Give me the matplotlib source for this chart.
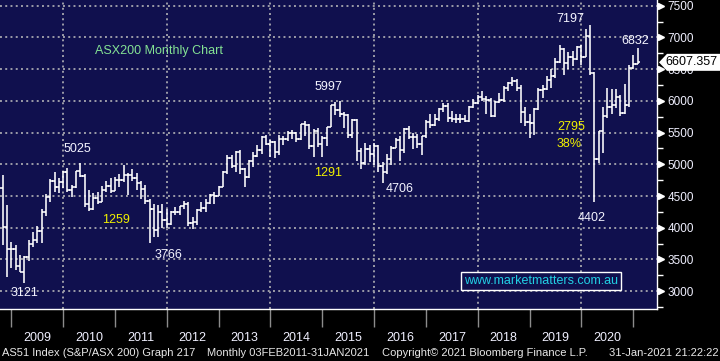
import matplotlib
matplotlib.use('Agg')
import matplotlib.pyplot as plt
from matplotlib.collections import LineCollection
from matplotlib.patches import Polygon
from matplotlib.ticker import FixedLocator
import matplotlib.transforms as mtransforms

plt.rcParams['font.family'] = ['Liberation Sans', 'DejaVu Sans']

# ---------------- data (monthly OHLC, Oct 2008 .. Jan 2021) ----------------
start_year, start_month = 2008, 10
opens = [4631, 4015, 3672, 3659, 3400, 3296, 3532, 3744, 3813, 3948, 4254, 4478, 4739, 4644, 4715,
         4871, 4596, 4637, 4893, 4808, 4367, 4302, 4470, 4413, 4598, 4660, 4585,
         4745, 4754, 4838, 4837, 4780, 4709, 4608, 4425, 4297, 3970, 4243, 4129,
         4057, 4244, 4247, 4335, 4376, 4076, 4095, 4280, 4317, 4387, 4517, 4506,
         4649, 4879, 5104, 4966, 5191, 4926, 4803, 5052, 5135, 5218, 5425, 5320,
         5352, 5190, 5405, 5394, 5489, 5492, 5396, 5633, 5625, 5292, 5527, 5313,
         5411, 5588, 5929, 5861, 5790, 5777, 5459, 5699, 5207, 5022, 5239, 5166,
         5296, 4977, 4881, 5082, 5253, 5378, 5233, 5562, 5433, 5436, 5318, 5440,
         5666, 5621, 5712, 5864, 5924, 5724, 5721, 5721, 5715, 5682, 5909, 5969,
         6065, 6037, 6016, 5759, 5983, 6011, 6195, 6281, 6320, 6207, 5830, 5667,
         5646, 5865, 6169, 6181, 6326, 6397, 6619, 6813, 6604, 6688, 6663, 6846,
         6684, 7017, 6441, 5077, 5522, 5756, 5898, 5928, 6061, 5816, 5928, 6518,
         6587]
highs = [4830, 4360, 3780, 3720, 3570, 3560, 3800, 3930, 4020, 4300, 4530, 4770, 4880, 4790,
         4900, 4940, 4680, 4900, 5025, 4850, 4590, 4550, 4570, 4660, 4730, 4780, 4800,
         4850, 4990, 4860, 4930, 4860, 4730, 4670, 4450, 4380, 4360, 4380, 4300,
         4260, 4330, 4350, 4420, 4400, 4170, 4300, 4400, 4450, 4530, 4560, 4660,
         4890, 5140, 5150, 5210, 5220, 4940, 5060, 5200, 5300, 5440, 5460, 5380,
         5360, 5460, 5440, 5520, 5540, 5510, 5640, 5680, 5640, 5560, 5570, 5450,
         5590, 5930, 5980, 5997, 5820, 5790, 5710, 5720, 5250, 5330, 5300, 5330,
         5300, 5030, 5170, 5290, 5420, 5450, 5570, 5600, 5500, 5480, 5450, 5700,
         5790, 5790, 5880, 5960, 5960, 5840, 5800, 5800, 5780, 5920, 6030, 6090,
         6150, 6080, 6040, 6000, 6120, 6240, 6290, 6370, 6340, 6250, 5900, 5790,
         5890, 6200, 6250, 6390, 6500, 6680, 6880, 6830, 6770, 6780, 6860, 6880,
         7130, 7197, 6460, 5520, 5910, 6200, 6190, 6190, 6100, 6260, 6560, 6720,
         6832]
lows = [3730, 3230, 3370, 3330, 3300, 3121, 3480, 3690, 3760, 3760, 4190, 4400, 4560, 4550,
        4620, 4570, 4480, 4620, 4800, 4320, 4270, 4280, 4380, 4410, 4560, 4550, 4580,
        4650, 4720, 4520, 4740, 4590, 4460, 4370, 3766, 3850, 3850, 3990, 4000,
        4040, 4200, 4200, 4300, 4030, 3985, 4050, 4250, 4250, 4380, 4380, 4500,
        4640, 4850, 4940, 4880, 4850, 4650, 4790, 4960, 5120, 5160, 5300, 5120,
        5100, 5150, 5300, 5360, 5400, 5350, 5390, 5450, 5240, 5120, 5270, 5110,
        5290, 5590, 5770, 5750, 5580, 5410, 5420, 5050, 4920, 4990, 5030, 4990,
        4880, 4706, 4850, 4990, 5250, 5050, 5180, 5400, 5240, 5260, 5140, 5420,
        5580, 5610, 5680, 5830, 5670, 5660, 5650, 5650, 5660, 5670, 5880, 5950,
        6000, 5800, 5750, 5740, 5970, 5980, 6150, 6230, 6150, 5650, 5600, 5410,
        5460, 5850, 6050, 6170, 6200, 6360, 6600, 6400, 6500, 6550, 6640, 6560,
        6690, 6400, 4402, 5020, 5180, 5730, 5800, 5890, 5760, 5790, 5900, 6500,
        6580]
closes = [4015, 3672, 3659, 3400, 3296, 3532, 3744, 3813, 3948, 4254, 4478, 4739, 4644, 4715,
          4871, 4596, 4637, 4893, 4808, 4367, 4302, 4470, 4413, 4598, 4660, 4585, 4745,
          4754, 4838, 4837, 4780, 4709, 4608, 4425, 4297, 3970, 4243, 4129, 4057,
          4244, 4247, 4335, 4376, 4076, 4095, 4280, 4317, 4387, 4517, 4506, 4649,
          4879, 5104, 4966, 5191, 4926, 4803, 5052, 5135, 5218, 5425, 5320, 5352,
          5190, 5405, 5394, 5489, 5492, 5396, 5633, 5625, 5292, 5527, 5313, 5411,
          5588, 5929, 5861, 5790, 5777, 5459, 5699, 5207, 5022, 5239, 5166, 5296,
          4977, 4881, 5082, 5253, 5378, 5233, 5562, 5433, 5436, 5318, 5440, 5666,
          5621, 5712, 5864, 5924, 5724, 5721, 5721, 5715, 5682, 5909, 5969, 6065,
          6037, 6016, 5759, 5983, 6011, 6195, 6281, 6320, 6207, 5830, 5667, 5646,
          5865, 6169, 6181, 6326, 6397, 6619, 6813, 6604, 6688, 6663, 6846, 6684,
          7017, 6441, 5077, 5522, 5756, 5898, 5928, 6061, 5816, 5928, 6518, 6587,
          6607.357]

years = list(range(2009, 2021))
ytick_values = list(range(3000, 7501, 500))
last_price = 6607.357

# annotation labels: (text, date, value)
white_labels = [("3121", 2009.263, 2971), ("5025", 2010.267, 5241), ("3766", 2012.023, 3570),
                ("5997", 2015.11, 6218), ("4706", 2016.50, 4611), ("7197", 2019.78, 7291),
                ("4402", 2020.205, 4154), ("6832", 2021.035, 6946)]
yellow_labels = [("1259", 2011.02, 4122), ("1291", 2015.11, 4863)]
yellow_left_labels = [("2795", 2019.53, 5588), ("38%", 2019.53, 5320)]
title_text = "ASX200 Monthly Chart"
title_pos = (2011.849, 6786)
watermark = "www.marketmatters.com.au"

# ---------------- figure ----------------
W, H = 720, 361
fig = plt.figure(figsize=(7.2, 3.61), dpi=100, facecolor='black')
ax_right_px, ax_bottom_px = 657, 309
ax = fig.add_axes([0, 1 - ax_bottom_px / H, ax_right_px / W, ax_bottom_px / H])
navy = '#10104e'
ax.set_facecolor(navy)

xmin = 2008.781
xmax = xmin + 657 / 51.82
ax.set_xlim(xmin, xmax)
ax.set_ylim(2719, 7590)

# grid
gcol = '#9c9ca8'
for v in ytick_values:
    ax.axhline(v, color=gcol, lw=1.4, ls=(0, (1, 1.7)), zorder=1)
for yr in range(2010, 2021, 2):
    ax.axvline(yr, color=gcol, lw=1.4, ls=(0, (1, 1.7)), zorder=1)

# OHLC bars
n = len(closes)
dates = []
for i in range(n):
    m = start_month - 1 + i
    yr = start_year + m // 12
    mon = m % 12 + 1
    dates.append(yr + mon / 12.0)
w = 0.55 / 12
segs = []
for d, o, h, l, c in zip(dates, opens, highs, lows, closes):
    segs.append([(d, l), (d, h)])
    segs.append([(d - w, o), (d, o)])
    segs.append([(d, c), (d + w, c)])
ax.add_collection(LineCollection(segs, colors='white', linewidths=1.15, zorder=3))

# spines
for s in ['top', 'left']:
    ax.spines[s].set_visible(False)
for s in ['right', 'bottom']:
    ax.spines[s].set_color('white')
    ax.spines[s].set_linewidth(1.0)

# y axis on right
ax.yaxis.tick_right()
ax.set_yticks(ytick_values)
ax.set_yticklabels([str(v) for v in ytick_values])
ax.yaxis.set_minor_locator(FixedLocator([v + 250 for v in range(2500, 7500, 500)]))
ax.tick_params(axis='y', which='major', length=0, pad=7.5, labelsize=8.5, labelcolor='#f0f0ff')
ax.tick_params(axis='y', which='minor', length=4, width=1, color='white', direction='out')
tri_tr = mtransforms.offset_copy(ax.get_yaxis_transform(), fig=fig, x=4, y=0, units='dots')
ax.plot([1.0] * len(ytick_values), ytick_values, linestyle='none', marker='>', ms=5,
        color='white', transform=tri_tr, clip_on=False, zorder=5)

# x axis
ax.set_xticks([y for y in range(2009, 2022)])
ax.set_xticklabels([''] * 13)
ax.set_xticks([y + 0.5 for y in years], minor=True)
ax.set_xticklabels([str(y) for y in years], minor=True)
ax.tick_params(axis='x', which='major', length=13, width=1, color='#8c8c8c', direction='out')
ax.tick_params(axis='x', which='minor', length=0, pad=16.5, labelsize=9, labelcolor='#f0f0ff')

# annotations
for t, x, y in white_labels:
    ax.text(x, y, t, color='#f4f4ff', fontsize=9, ha='center', va='center', zorder=6)
for t, x, y in yellow_labels:
    ax.text(x, y, t, color='#f0f000', fontsize=9, ha='center', va='center', zorder=6)
for t, x, y in yellow_left_labels:
    ax.text(x, y, t, color='#f0f000', fontsize=9, ha='left', va='center', zorder=6)
ax.text(title_pos[0], title_pos[1], title_text, color='#84e294', fontsize=9,
        ha='center', va='center', zorder=6)
ax.text(541 / 657, 1 - 281 / 309, watermark, transform=ax.transAxes, color='#22d0e4',
        fontsize=9, ha='center', va='center', zorder=6,
        bbox=dict(boxstyle='square,pad=0.25', fc=navy, ec='white', lw=1))

# last price box
yp = ax.transData.transform((xmin, last_price))[1]
yfig = yp / H
hh = 8.5 / H
poly = Polygon([(659 / W, yfig), (667 / W, yfig + hh), (1.0, yfig + hh), (1.0, yfig - hh),
                (667 / W, yfig - hh)], closed=True, transform=fig.transFigure,
               fc='white', ec='none', zorder=10)
fig.patches.append(poly)
fig.text(665 / W, yfig, f"{last_price:.3f}", color='black', fontsize=9, ha='left', va='center',
         zorder=11)

# footer
fy = 1 - 353 / H
fcol = '#e8e8e8'
fs = 8
fig.text(2 / W, fy, "AS51 Index (S&P/ASX 200) Graph 217", color=fcol, fontsize=fs, va='center')
fig.text(207 / W, fy, "Monthly 03FEB2011-31JAN2021", color=fcol, fontsize=fs, va='center')
fig.text(382 / W, fy, "Copyright\u00a9 2021 Bloomberg Finance L.P.", color=fcol, fontsize=fs,
         va='center')
fig.text(719 / W, fy, "31-Jan-2021 21:22:22", color=fcol, fontsize=fs, va='center', ha='right')

fig.savefig('out.png', dpi=100, facecolor='black')
